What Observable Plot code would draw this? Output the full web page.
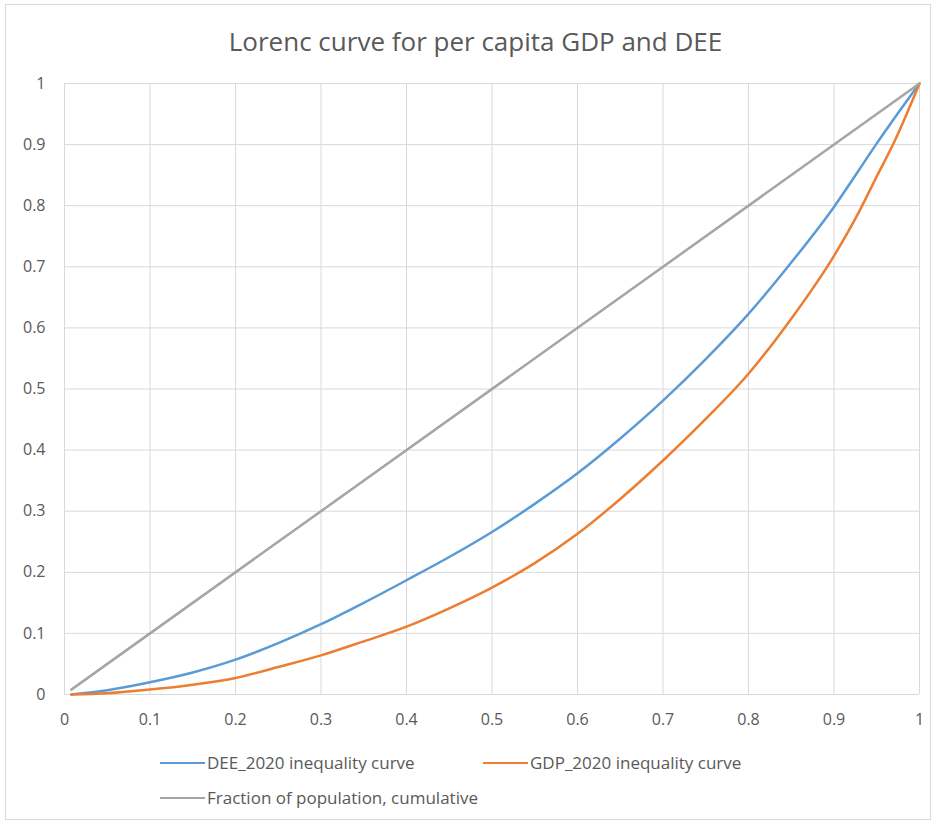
<!DOCTYPE html>
<html>
<head>
<meta charset="utf-8">
<script src="https://cdn.jsdelivr.net/npm/d3@7"></script>
<script src="https://cdn.jsdelivr.net/npm/@observablehq/plot@0.6"></script>
<style>
  html, body { margin: 0; padding: 0; background: #fff; }
  body { width: 937px; height: 824px; position: relative; overflow: hidden; font-family: "Open Sans", sans-serif; color: #595959; }
  #frame { position: absolute; left: 5px; top: 4px; width: 926px; height: 816px; border: 1px solid #d9d9d9; box-sizing: border-box; }
  #title { position: absolute; left: 7px; top: 24px; width: 937px; text-align: center; font-size: 26px; line-height: 35px; color: #595959; white-space: nowrap; }
  #chart { position: absolute; left: 0; top: 60px; }
  .item { position: absolute; display: flex; align-items: center; font-size: 17px; line-height: 24px; color: #595959; white-space: nowrap; }
  .sw { width: 45px; height: 2.5px; margin-right: 2px; }
</style>
</head>
<body>
<div id="frame"></div>
<div id="title">Lorenc curve for per capita GDP and DEE</div>
<div id="chart"></div>
<div id="legend"></div>
<script>
// Data
const popShare = [0.008, 0.05, 0.1, 0.15, 0.2, 0.25, 0.3, 0.35, 0.4, 0.45, 0.5, 0.55, 0.6, 0.65, 0.7, 0.75, 0.8, 0.85, 0.9, 0.93, 0.95, 0.97, 1];
const deeCurve = [0, 0.007, 0.020, 0.036, 0.057, 0.084, 0.115, 0.150, 0.187, 0.225, 0.266, 0.312, 0.362, 0.419, 0.481, 0.549, 0.623, 0.707, 0.798, 0.860, 0.902, 0.942, 1];
const gdpCurve = [0, 0.002, 0.008, 0.016, 0.027, 0.045, 0.064, 0.087, 0.111, 0.141, 0.175, 0.215, 0.263, 0.320, 0.383, 0.451, 0.525, 0.615, 0.718, 0.792, 0.848, 0.903, 1];
const equalityX = [0.008, 1];
const equalityY = [0.008, 1];
const xTickValues = [0, 0.1, 0.2, 0.3, 0.4, 0.5, 0.6, 0.7, 0.8, 0.9, 1];
const yTickValues = [0, 0.1, 0.2, 0.3, 0.4, 0.5, 0.6, 0.7, 0.8, 0.9, 1];
const seriesNames = ["DEE_2020 inequality curve", "GDP_2020 inequality curve", "Fraction of population, cumulative"];
const seriesColors = ["#5b9bd5", "#ed7d31", "#a5a5a5"];

const rows = [];
popShare.forEach((x, i) => rows.push({series: seriesNames[0], x, y: deeCurve[i]}));
popShare.forEach((x, i) => rows.push({series: seriesNames[1], x, y: gdpCurve[i]}));
equalityX.forEach((x, i) => rows.push({series: seriesNames[2], x, y: equalityY[i]}));

const fmt = d => String(d);

const chart = Plot.plot({
  width: 937,
  height: 674,
  marginTop: 23,
  marginBottom: 40,
  marginLeft: 64,
  marginRight: 18,
  x: {domain: [0, 1]},
  y: {domain: [0, 1]},
  color: {domain: seriesNames, range: seriesColors},
  style: {fontFamily: "Open Sans, sans-serif", fontSize: "16px", color: "#595959", background: "transparent", overflow: "visible"},
  marks: [
    Plot.gridX(xTickValues, {stroke: "#d9d9d9", strokeOpacity: 1, strokeWidth: 1}),
    Plot.gridY(yTickValues, {stroke: "#d9d9d9", strokeOpacity: 1, strokeWidth: 1}),
    Plot.axisX(xTickValues, {tickSize: 0, tickPadding: 19, tickFormat: fmt, label: null, fontSize: 16}),
    Plot.axisY(yTickValues, {tickSize: 0, tickPadding: 19, tickFormat: fmt, label: null, fontSize: 16}),
    Plot.line(rows, {x: "x", y: "y", z: "series", stroke: "series", strokeWidth: 2.5, curve: "monotone-x"})
  ]
});
document.getElementById("chart").appendChild(chart);

// Legend
const legendPos = [
  {left: 160, top: 751},
  {left: 483, top: 751},
  {left: 160, top: 786}
];
const legend = document.getElementById("legend");
seriesNames.forEach((name, i) => {
  const item = document.createElement("div");
  item.className = "item";
  item.style.left = legendPos[i].left + "px";
  item.style.top = legendPos[i].top + "px";
  const sw = document.createElement("span");
  sw.className = "sw";
  sw.style.background = seriesColors[i];
  const tx = document.createElement("span");
  tx.textContent = name;
  item.appendChild(sw);
  item.appendChild(tx);
  legend.appendChild(item);
});
</script>
</body>
</html>
